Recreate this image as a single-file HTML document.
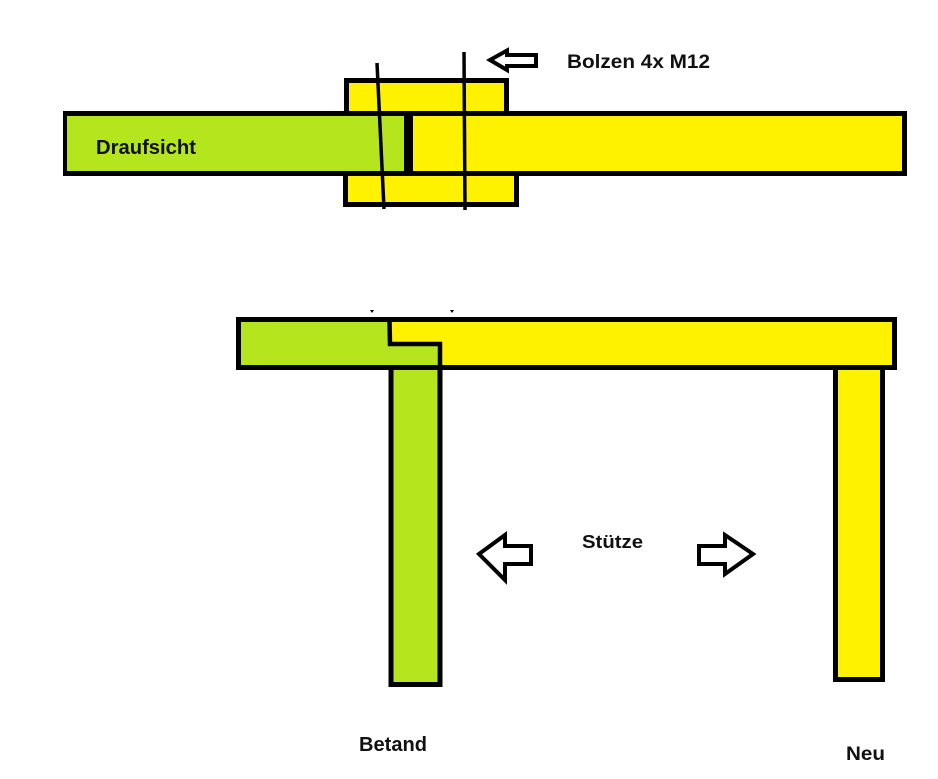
<!DOCTYPE html>
<html>
<head>
<meta charset="utf-8">
<style>
  html, body { margin: 0; padding: 0; background: #ffffff; }
  body { width: 938px; height: 779px; overflow: hidden; }
  svg { display: block; }
  text { font-family: "Liberation Sans", "DejaVu Sans", sans-serif; font-weight: bold; fill: #111; }
</style>
</head>
<body>
<svg width="938" height="779" viewBox="0 0 938 779" xmlns="http://www.w3.org/2000/svg">
  <rect x="0" y="0" width="938" height="779" fill="#ffffff"/>

  <!-- ===== Top view (Draufsicht) ===== -->
  <rect x="346.5" y="80.5" width="160" height="40" fill="#fff200" stroke="#000" stroke-width="5"/>
  <rect x="345.5" y="170" width="171" height="34.5" fill="#fff200" stroke="#000" stroke-width="5"/>
  <rect x="65.5" y="113.5" width="839" height="60" fill="#fff200" stroke="#000" stroke-width="5"/>
  <rect x="67" y="116" width="337" height="55" fill="#b5e61d"/>
  <rect x="404" y="116" width="9" height="55" fill="#000"/>

  <!-- bolts -->
  <line x1="377" y1="63" x2="384" y2="209" stroke="#000" stroke-width="3.5"/>
  <line x1="464" y1="52" x2="465" y2="210" stroke="#000" stroke-width="3.5"/>

  <!-- top arrow -->
  <polygon points="490,60 507,50.5 507,55 536,55 536,66 507,66 507,70" fill="#fff" stroke="#000" stroke-width="4" stroke-linejoin="miter"/>

  <text x="96" y="154" font-size="20" textLength="100" lengthAdjust="spacingAndGlyphs">Draufsicht</text>
  <text x="567" y="68" font-size="19" textLength="143" lengthAdjust="spacingAndGlyphs">Bolzen 4x M12</text>

  <!-- ===== Side view ===== -->
  <rect x="391" y="364" width="49" height="320.5" fill="#b5e61d" stroke="#000" stroke-width="5"/>
  <rect x="835.5" y="364" width="47" height="315.5" fill="#fff200" stroke="#000" stroke-width="5"/>

  <!-- horizontal beam -->
  <rect x="238.5" y="319.5" width="656" height="48" fill="#fff200" stroke="#000" stroke-width="5"/>
  <polygon points="241,322 389.5,322 390,344 440,344 440,365 241,365" fill="#b5e61d"/>
  <polyline points="389.5,320 390,344 440,344 440,367" fill="none" stroke="#000" stroke-width="4.5"/>

  <!-- tiny tick marks -->
  <polygon points="370,310 374,310 372,313" fill="#000"/>
  <polygon points="450,310 454,310 452,313" fill="#000"/>

  <!-- middle arrows -->
  <polygon points="479,554 505,535 505,546 531,546 531,564 505,564 505,580" fill="#fff" stroke="#000" stroke-width="4" stroke-linejoin="miter"/>
  <polygon points="699,546 725,546 725,535 753,554 725,574 725,564 699,564" fill="#fff" stroke="#000" stroke-width="4" stroke-linejoin="miter"/>

  <text x="582" y="548" font-size="18" textLength="61" lengthAdjust="spacingAndGlyphs">Stütze</text>
  <text x="359" y="751" font-size="20" textLength="68" lengthAdjust="spacingAndGlyphs">Betand</text>
  <text x="846" y="760" font-size="19" textLength="39" lengthAdjust="spacingAndGlyphs">Neu</text>
</svg>
</body>
</html>
